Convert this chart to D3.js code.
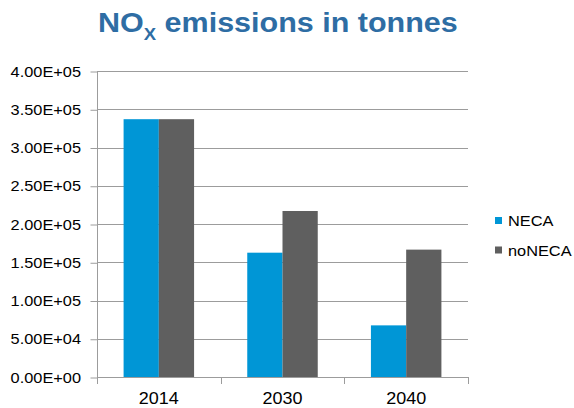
<!DOCTYPE html>
<html>
<head>
<meta charset="utf-8">
<script src="https://cdn.jsdelivr.net/npm/d3@7"></script>
<style>
  html, body { margin: 0; padding: 0; background: #fff; }
  svg { display: block; font-family: Arial, "Liberation Sans", sans-serif; }
</style>
</head>
<body>
<svg id="chart" width="574" height="408"></svg>
<script>
// Emission totals per scenario and year
const years = ["2014", "2030", "2040"];
const seriesNames = ["NECA", "noNECA"];
const necaValues = [337000, 162500, 67500];
const noNecaValues = [337000, 217000, 166500];
const yTickValues = [0, 50000, 100000, 150000, 200000, 250000, 300000, 350000, 400000];
const yTickLabels = ["0.00E+00", "5.00E+04", "1.00E+05", "1.50E+05", "2.00E+05", "2.50E+05", "3.00E+05", "3.50E+05", "4.00E+05"];
const seriesColors = ["#0096D6", "#5F5F5F"];

const rows = years.map((y, i) => ({ year: y, values: [necaValues[i], noNecaValues[i]] }));

const svg = d3.select("#chart");
const plot = { left: 97, right: 468, top: 71, bottom: 377 };
const sx = 1.09; // horizontal text widening

const y = d3.scaleLinear().domain([0, 400000]).range([plot.bottom, plot.top]);
const xCat = d3.scaleBand().domain(years).range([plot.left, plot.right]).paddingInner(0.43).paddingOuter(0.215);
const xEdge = d3.scaleBand().domain(years).range([plot.left, plot.right]).padding(0);
const xSeries = d3.scaleBand().domain(seriesNames).range([0, xCat.bandwidth()]);

function text(g, x, yy, str, anchor, size, opts = {}) {
  return g.append("text")
    .attr("transform", `translate(${x},${yy}) scale(${sx},1)`)
    .attr("text-anchor", anchor)
    .attr("font-size", size)
    .attr("fill", opts.fill || "#000")
    .attr("font-weight", opts.weight || "normal")
    .text(str);
}

// gridlines
svg.append("g").selectAll("line").data(yTickValues.slice(1)).join("line")
  .attr("x1", plot.left).attr("x2", plot.right)
  .attr("y1", d => Math.round(y(d)) + 0.5).attr("y2", d => Math.round(y(d)) + 0.5)
  .attr("stroke", "#9c9c9c").attr("stroke-width", 1);

// y axis
const yAxis = d3.axisLeft(y).tickValues(yTickValues).tickSize(7).tickFormat("");
const gy = svg.append("g").attr("transform", `translate(${plot.left + 0.5},0.5)`).call(yAxis);
gy.select(".domain").attr("stroke", "#9c9c9c").attr("d", `M0,${plot.top - 0.5}V${plot.bottom}`);
gy.selectAll(".tick line").attr("stroke", "#9c9c9c");
yTickValues.forEach((v, i) => {
  text(svg, 81, y(v) + 5.5, yTickLabels[i], "end", 15);
});

// bars
const groups = svg.append("g").selectAll("g").data(rows).join("g")
  .attr("transform", d => `translate(${xCat(d.year)},0)`);
groups.selectAll("rect").data(d => d.values.map((v, i) => ({ name: seriesNames[i], value: v, color: seriesColors[i] })))
  .join("rect")
  .attr("x", d => xSeries(d.name))
  .attr("width", xSeries.bandwidth())
  .attr("y", d => y(d.value))
  .attr("height", d => y(0) - y(d.value))
  .attr("fill", d => d.color);

// x axis
const edges = years.map(yv => xEdge(yv)).concat([plot.right]);
const gx = svg.append("g");
gx.append("line").attr("x1", plot.left).attr("x2", plot.right)
  .attr("y1", plot.bottom + 0.5).attr("y2", plot.bottom + 0.5).attr("stroke", "#9c9c9c");
gx.selectAll("line.tk").data(edges).join("line").attr("class", "tk")
  .attr("x1", d => Math.round(d) + 0.5).attr("x2", d => Math.round(d) + 0.5)
  .attr("y1", plot.bottom).attr("y2", plot.bottom + 7).attr("stroke", "#9c9c9c");
years.forEach(yv => {
  text(svg, xEdge(yv) + xEdge.bandwidth() / 2, 404, yv, "middle", 16.5);
});

// title
const title = svg.append("text")
  .attr("transform", `translate(98,32) scale(${sx},1)`)
  .attr("font-size", 28).attr("font-weight", "bold").attr("fill", "#2E6DA4");
title.append("tspan").text("NO");
title.append("tspan").attr("font-size", 17).attr("dy", 8).text("X");
title.append("tspan").attr("dy", -8).text(" emissions in tonnes");

// legend
const legend = svg.append("g");
seriesNames.forEach((n, i) => {
  const ly = 217 + i * 29.5;
  legend.append("rect").attr("x", 495).attr("y", ly).attr("width", 7).attr("height", 7).attr("fill", seriesColors[i]);
  text(legend, 508, ly + 9, n, "start", 15);
});
</script>
</body>
</html>
